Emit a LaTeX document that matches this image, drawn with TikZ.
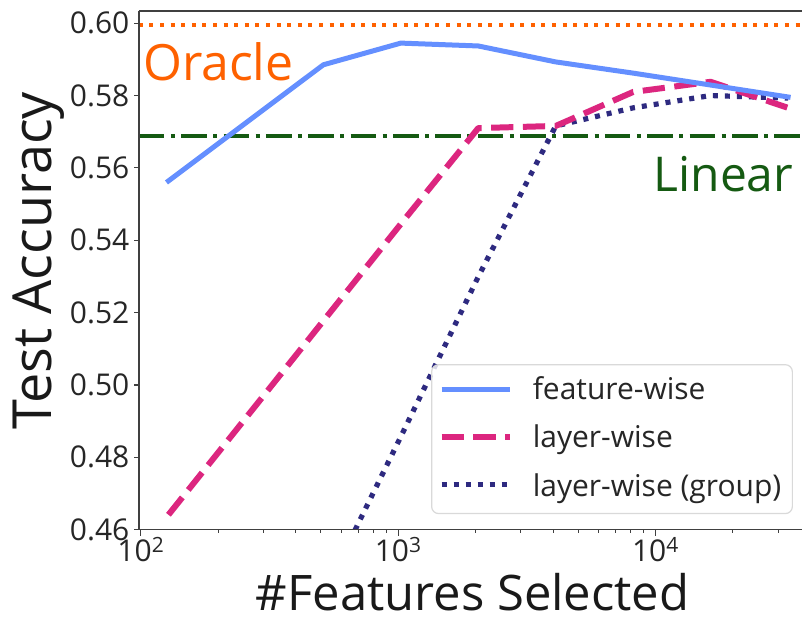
\documentclass[tikz,border=0pt]{standalone}
\usepackage{fontspec}
\setmainfont{Open Sans}
\usetikzlibrary{positioning}
\definecolor{featblue}{HTML}{648FFF}
\definecolor{layerpink}{HTML}{DC267F}
\definecolor{groupnavy}{HTML}{2E2A80}
\definecolor{oracleorange}{HTML}{FE6100}
\definecolor{lineargreen}{HTML}{155A12}

\begin{document}
\begin{tikzpicture}[x=1pt, y=1pt,
    declare function={fx(\k)=141+257.5*(\k*0.30103-2); fy(\a)=88+(\a-0.46)*3620;},
    spine/.style={draw=black!75, line width=1.3pt},
    tick/.style={draw=black!75, line width=1.2pt},
    ticklab/.style={font=\fontsize{30}{36}\selectfont, text=black!85, inner sep=0pt},
    bigtext/.style={font=\fontsize{50}{60}\selectfont, inner sep=0pt},
    axislab/.style={font=\fontsize{49}{58}\selectfont, text=black!90, inner sep=0pt},
    legtext/.style={font=\fontsize{30}{36}\selectfont, text=black!85, inner sep=0pt, anchor=base west},
    featline/.style={draw=featblue, line width=5pt, line join=round, line cap=rect},
    layerline/.style={draw=layerpink, line width=6pt, line join=round, dash pattern=on 22.2pt off 9.6pt},
    groupline/.style={draw=groupnavy, line width=5.2pt, line join=round, dash pattern=on 5pt off 7pt},
    oracleline/.style={draw=oracleorange, line width=4pt, dash pattern=on 4pt off 6.6pt},
    linearline/.style={draw=lineargreen, line width=4pt, dash pattern=on 25.6pt off 6.4pt on 4pt off 6.4pt}
  ]
    \fill[white] (0,0) rectangle (803,618);

    \begin{scope}
      \clip (139,88) rectangle (803,607);
      \draw[oracleline] (139,{fy(0.5996)}) -- (803,{fy(0.5996)});
      \draw[linearline] (139,{fy(0.5689)}) -- (803,{fy(0.5689)});
      \draw[groupline] ({fx(9)},{fy(0.442)}) -- ({fx(10)},{fy(0.4857)}) -- ({fx(11)},{fy(0.5299)})
        -- ({fx(12)},{fy(0.5716)}) -- ({fx(13)},{fy(0.5766)}) -- ({fx(14)},{fy(0.5800)}) -- ({fx(15)},{fy(0.5793)});
      \draw[layerline] ({fx(7)},{fy(0.4641)}) -- ({fx(9)},{fy(0.5177)}) -- ({fx(10)},{fy(0.5445)}) -- ({fx(11)},{fy(0.5710)})
        -- ({fx(12)},{fy(0.5716)}) -- ({fx(13)},{fy(0.5810)}) -- ({fx(14)},{fy(0.5838)}) -- ({fx(15)},{fy(0.5766)});
      \draw[featline] ({fx(7)},{fy(0.5564)}) -- ({fx(9)},{fy(0.5885)}) -- ({fx(10)},{fy(0.5945)}) -- ({fx(11)},{fy(0.5937)})
        -- ({fx(12)},{fy(0.5893)}) -- ({fx(13)},{fy(0.5862)}) -- ({fx(14)},{fy(0.5829)}) -- ({fx(15)},{fy(0.5796)});
    \end{scope}

    \node[bigtext, text=oracleorange, anchor=base west] (oracle) at (143,537) {Oracle};
    \node[bigtext, text=lineargreen, anchor=base east, font=\fontsize{48}{58}\selectfont] (linear) at (794,426) {Linear};

    \draw[spine] (139,607) -- (139,88) -- (803,88);
    \draw[spine] (139,607) -- (803,607);

    \foreach \v in {46,48,...,60}
      \draw[tick] (139,{fy(\v/100)}) -- (134,{fy(\v/100)})
        node[ticklab, anchor=east, xshift=-4pt] (ytick\v) {0.\v};
    \foreach \e in {2,3,4}
      \draw[tick] ({141+257.5*(\e-2)},88) -- ({141+257.5*(\e-2)},82)
        node[ticklab, anchor=north, yshift=-1pt] (xtick\e) {10\textsuperscript{\e}};
    \foreach \e in {0,1}
      \foreach \m in {2,...,9}
        \draw[tick, line width=0.9pt] ({141+257.5*(\e+log10(\m))},88) -- ++(0,-3.5);
    \foreach \m in {2,3}
      \draw[tick, line width=0.9pt] ({141+257.5*(2+log10(\m))},88) -- ++(0,-3.5);

    \node[axislab, anchor=base] (xlabel) at (473,7) {\#Features Selected};
    \node[axislab, rotate=90, anchor=base, font=\fontsize{54}{64}\selectfont] (ylabel) at (52,357) {Test Accuracy};

    \draw[draw=black!15, line width=1.2pt, fill=white, fill opacity=0.8, rounded corners=7pt]
      (432,104) rectangle (793,253);
    \node[legtext] (legfeat) at (533,218) {feature-wise};
    \node[legtext] (leglayer) at (533,170) {layer-wise};
    \node[legtext] (leggroup) at (533,121) {layer-wise (group)};
    \draw[featline, line cap=butt] ([xshift=-91pt, yshift=10pt]legfeat.base west) -- ([xshift=-23pt, yshift=10pt]legfeat.base west);
    \draw[layerline] ([xshift=-91pt, yshift=11pt]leglayer.base west) -- ([xshift=-23pt, yshift=11pt]leglayer.base west);
    \draw[groupline] ([xshift=-91pt, yshift=12pt]leggroup.base west) -- ([xshift=-23pt, yshift=12pt]leggroup.base west);
  \end{tikzpicture}
\end{document}
